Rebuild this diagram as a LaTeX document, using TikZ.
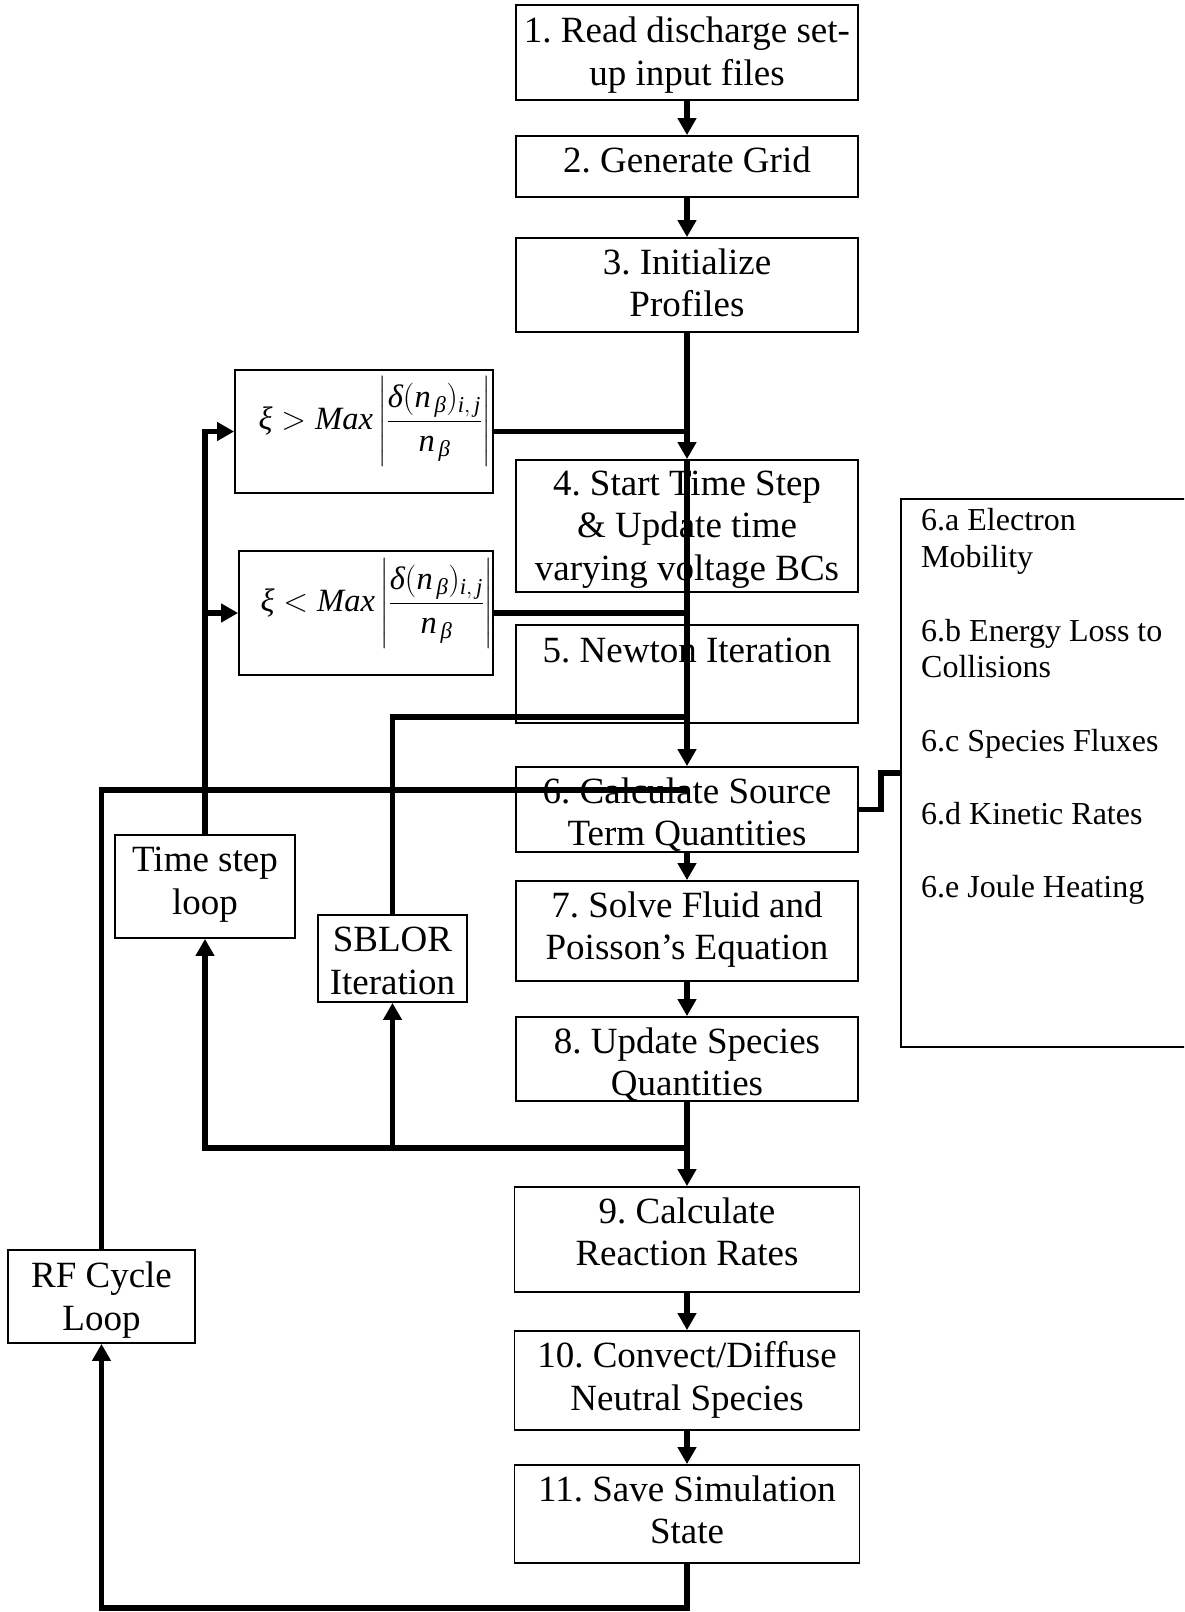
\RequirePackage{fix-cm}
\documentclass[tikz,border=0pt]{standalone}
\usepackage{amsmath}
\usepackage{fontspec}
\setmainfont{Liberation Serif}
\usetikzlibrary{arrows.meta}
\frenchspacing
\newcommand\myit[1]{\textit{#1}}
\newcommand\mainsz{\fontsize{37}{42.5}\selectfont\frenchspacing}
\newcommand\sidesz{\fontsize{32}{36.7}\selectfont\frenchspacing}
\newcommand\fmsz{\fontsize{32.5}{38}\selectfont}
\begin{document}
\begin{tikzpicture}[x=1pt,y=-1pt,
  box/.style={draw, line width=1.8pt, inner sep=0pt},
  txt/.style={font=\mainsz, align=center, inner sep=0pt, anchor=north, execute at begin node=\strut},
  sidetxt/.style={font=\sidesz, align=left, inner sep=0pt, anchor=north west, execute at begin node=\strut},
  fm/.style={font=\fmsz, inner sep=0pt},
  conn/.style={line width=5.5pt, line join=miter},
  arr/.style={conn, -{Triangle[length=17pt,width=18pt]}},
]
\useasboundingbox (0,0) rectangle (1184,1612);
\clip (0,0) rectangle (1184,1612);

% main column boxes
\node[box, minimum width=342pt, minimum height=95pt]  (b1)  at (687,52.5)   {};
\node[box, minimum width=342pt, minimum height=61pt]  (b2)  at (687,166.5)  {};
\node[box, minimum width=342pt, minimum height=94pt]  (b3)  at (687,285)    {};
\node[box, minimum width=342pt, minimum height=132pt] (b4)  at (687,526)    {};
\node[box, minimum width=342pt, minimum height=98pt]  (b5)  at (687,674)    {};
\node[box, minimum width=342pt, minimum height=85pt]  (b6)  at (687,809.5)  {};
\node[box, minimum width=342pt, minimum height=100pt] (b7)  at (687,931)    {};
\node[box, minimum width=342pt, minimum height=84pt]  (b8)  at (687,1059)   {};
\node[box, minimum width=345pt, minimum height=105pt] (b9)  at (687,1239.5) {};
\node[box, minimum width=345pt, minimum height=99pt]  (b10) at (687,1380.5) {};
\node[box, minimum width=345pt, minimum height=98pt]  (b11) at (687,1514)   {};

% loop / condition boxes
\node[box, minimum width=258pt, minimum height=123pt] (c1) at (364,431.5)  {};
\node[box, minimum width=254pt, minimum height=124pt] (c2) at (366,613)    {};
\node[box, minimum width=180pt, minimum height=103pt] (ts) at (205,886.5)  {};
\node[box, minimum width=149pt, minimum height=87pt]  (sb) at (392.5,958.5){};
\node[box, minimum width=187pt, minimum height=93pt]  (rf) at (101.5,1296.5){};
\node[box, minimum width=299pt, minimum height=548pt] (side) at (1050.5,773) {};

% texts
\node[txt] (t1)  at ([yshift=-13pt]b1.north)    {1. Read discharge set-\\up input files};
\node[txt] (t2)  at ([yshift=-7.5pt]b2.north)   {2. Generate Grid};
\node[txt] (t3)  at ([yshift=-11.5pt]b3.north)  {3. Initialize\\Profiles};
\node[txt] (t4)  at ([yshift=-11.5pt]b4.north)  {4. Start Time Step\\\& Update time\\varying voltage BCs};
\node[txt] (t5)  at ([yshift=-8pt]b5.north)     {5. Newton Iteration};
\node[txt] (t6)  at ([yshift=-11.5pt]b6.north)  {6. Calculate Source\\Term Quantities};
\node[txt] (t7)  at ([yshift=-11.5pt]b7.north)  {7. Solve Fluid and\\Poisson’s Equation};
\node[txt] (t8)  at ([yshift=-11.5pt]b8.north)  {8. Update Species\\Quantities};
\node[txt] (t9)  at ([yshift=-11.5pt]b9.north)  {9. Calculate\\Reaction Rates};
\node[txt] (t10) at ([yshift=-11.5pt]b10.north) {10. Convect/Diffuse\\Neutral Species};
\node[txt] (t11) at ([yshift=-11.5pt]b11.north) {11. Save Simulation\\State};
\node[txt] (tts) at ([yshift=-13pt]ts.north)    {Time step\\loop};
\node[txt] (tsb) at ([yshift=-13pt]sb.north)    {SBLOR\\Iteration};
\node[txt] (trf) at ([yshift=-13pt]rf.north)    {RF Cycle\\Loop};
\node[sidetxt] (st) at (921,508.5) {6.a Electron\\Mobility\\[36.7pt]6.b Energy Loss to\\Collisions\\[36.7pt]6.c Species Fluxes\\[36.7pt]6.d Kinetic Rates\\[36.7pt]6.e Joule Heating};

\node[fm] (f1) at (374.5,421.5) {$\displaystyle \myit{ξ} > \myit{Max}\left|\frac{\myit{δ}(\myit{n}_{\,\myit{β}})_{\myit{i},\,\myit{j}}}{\myit{n}_{\,\myit{β}}}\right|$};
\node[fm] (f2) at (376.5,603.5) {$\displaystyle \myit{ξ} < \myit{Max}\left|\frac{\myit{δ}(\myit{n}_{\,\myit{β}})_{\myit{i},\,\myit{j}}}{\myit{n}_{\,\myit{β}}}\right|$};

% connectors
\draw[arr] (b1.south) -- (b2.north);
\draw[arr] (b2.south) -- (b3.north);
\draw[arr] (b3.south) -- (b4.north);
\draw[arr] (b4.north) -- (b6.north);
\draw[conn] (c1.east) -- (c1.east -| b4.north);
\draw[conn] (c2.east) -- (c2.east -| b4.north);
\draw[arr] (ts.north) |- (c1.west);
\draw[arr] (ts.north |- c2.west) -- (c2.west);
\coordinate (j5) at (687,717);
\draw[conn] (sb.north) |- (j5);
\coordinate (j6) at (687,790);
\draw[conn] (rf.north) |- (j6);
\draw[arr] (b6.south) -- (b7.north);
\draw[arr] (b7.south) -- (b8.north);
\draw[arr] (b8.south) -- (b9.north);
\coordinate (j8) at (687,1148);
\draw[arr] (j8) -| (ts.south);
\draw[arr] (sb.south |- j8) -- (sb.south);
\draw[arr] (b9.south) -- (b10.north);
\draw[arr] (b10.south) -- (b11.north);
\coordinate (jb) at (687,1608);
\draw[arr] (b11.south) -- (jb) -| (rf.south);
\draw[conn] (b6.east) -- ++(22,0) |- (side.west);
\end{tikzpicture}
\end{document}
